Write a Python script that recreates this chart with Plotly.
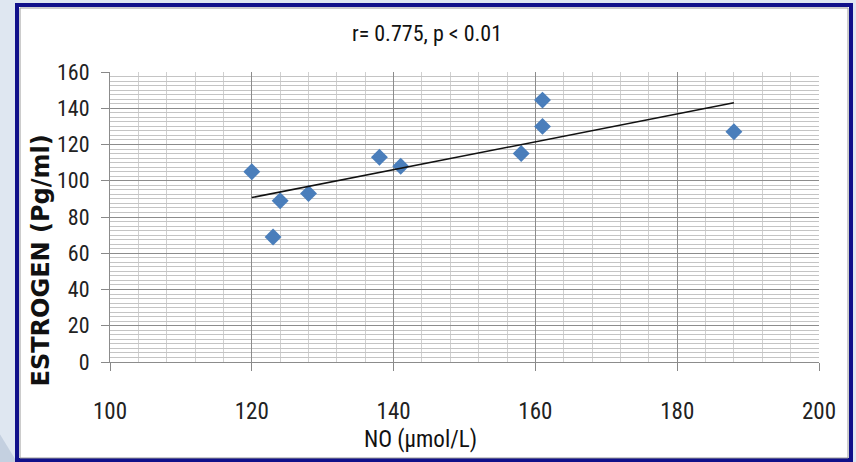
import numpy as np
import plotly.graph_objects as go

no_values = [120, 123, 124, 128, 138, 141, 158, 161, 161, 188]
estrogen_values = [105, 69, 89, 93, 113, 108, 115, 144.5, 130, 127]
x_ticks = [100, 120, 140, 160, 180, 200]
y_ticks = [0, 20, 40, 60, 80, 100, 120, 140, 160]
title_text = "r= 0.775, p < 0.01"
x_title = "NO (µmol/L)"
y_title = "ESTROGEN (Pg/ml)"

slope, intercept = np.polyfit(no_values, estrogen_values, 1)
trend_x = [min(no_values), max(no_values)]
trend_y = [slope * v + intercept for v in trend_x]

NARROW = "Liberation Sans Narrow, Arial Narrow, Roboto Condensed, sans-serif"

fig = go.Figure()
fig.add_trace(go.Scatter(x=no_values, y=estrogen_values, mode="markers",
                         marker=dict(symbol="diamond", size=13, color="#4a7ebb"),
                         showlegend=False))
fig.add_trace(go.Scatter(x=trend_x, y=trend_y, mode="lines",
                         line=dict(color="#111111", width=1.5), showlegend=False))

W, H = 856, 462
fig.update_layout(
    width=W, height=H,
    margin=dict(l=110, r=37, t=72, b=100),
    paper_bgcolor="#dfe7f1",
    plot_bgcolor="white",
    title=dict(text=title_text, x=427 / W, xref="container", xanchor="center",
               y=1 - 33 / H, yref="container", yanchor="middle",
               font=dict(family=NARROW, size=22, color="#111111")),
    xaxis=dict(range=[100, 200], tickvals=x_ticks, ticks="outside", ticklen=8,
               tickcolor="#888888", showgrid=True, gridcolor="#8c8c8c", gridwidth=1,
               minor=dict(dtick=4, showgrid=True, gridcolor="#d0d0d0", ticks=""),
               showline=True, linecolor="#8c8c8c", zeroline=False,
               ticklabelstandoff=20,
               tickfont=dict(family=NARROW, size=23, color="#222222")),
    yaxis=dict(range=[0, 160], tickvals=y_ticks, ticks="outside", ticklen=8,
               tickcolor="#888888", showgrid=True, gridcolor="#8c8c8c", gridwidth=1,
               minor=dict(dtick=2.5, showgrid=True, gridcolor="#c4c4c4", ticks=""),
               showline=True, linecolor="#8c8c8c", zeroline=False,
               ticklabelstandoff=7,
               tickfont=dict(family=NARROW, size=22, color="#222222")),
    shapes=[
        dict(type="path", xref="paper", yref="paper", layer="below",
             path="M -0.16 -0.35 L -0.13 -0.35 L -0.155 -0.25 Z",
             fillcolor="#c4d0e0", line=dict(width=0)),
        dict(type="rect", xref="paper", yref="paper", layer="below",
             x0=(17 - 110) / 709, x1=(851 - 110) / 709,
             y0=(362 - 460) / 290, y1=(362 - 5) / 290,
             fillcolor="white", line=dict(color="#10108a", width=4)),
        dict(type="rect", xref="paper", yref="paper", layer="below",
             x0=(20 - 110) / 709, x1=(848 - 110) / 709,
             y0=(362 - 458) / 290, y1=(362 - 8) / 290,
             fillcolor="rgba(0,0,0,0)", line=dict(color="#9a9a9a", width=1)),
    ],
    annotations=[
        dict(text=y_title, textangle=-90, xref="paper", yref="paper",
             x=(40 - 110) / 709, y=(362 - 260.5) / 290, showarrow=False,
             xanchor="center", yanchor="middle",
             font=dict(family="DejaVu Sans", size=24, color="#111111", weight="bold")),
        dict(text=x_title, xref="paper", yref="paper",
             x=(420 - 110) / 709, y=(362 - 439) / 290, showarrow=False,
             xanchor="center", yanchor="middle",
             font=dict(family=NARROW, size=23, color="#111111")),
    ],
)

fig.write_html("out.html")
